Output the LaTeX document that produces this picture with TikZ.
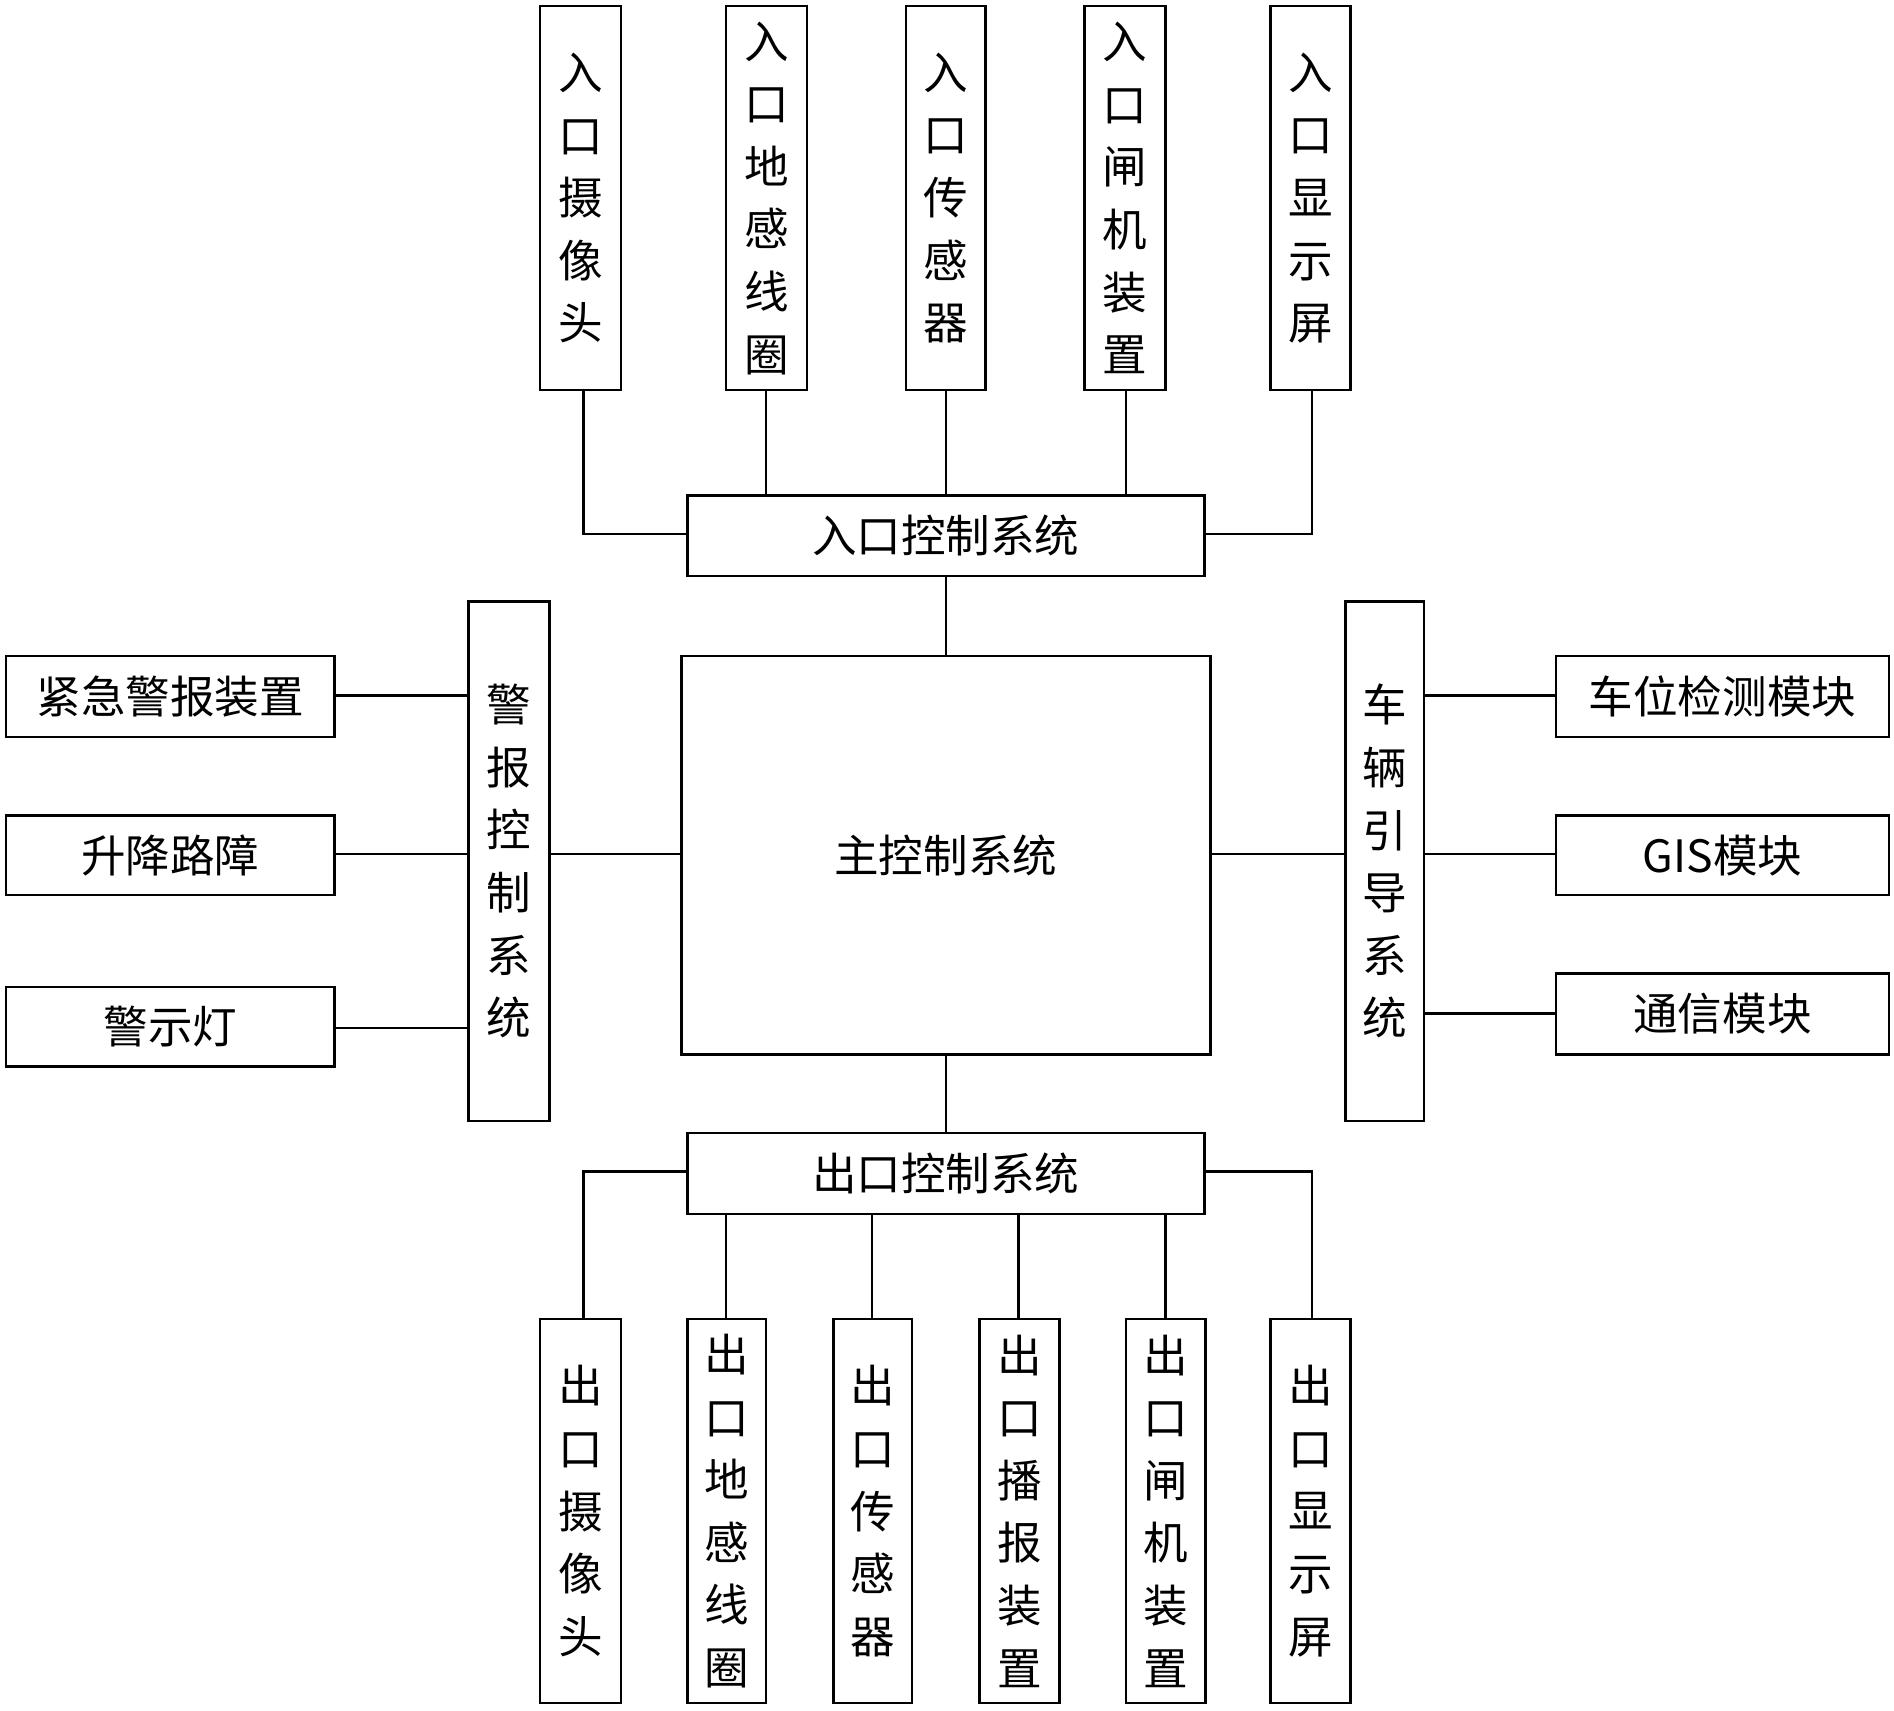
\documentclass[tikz,border=0pt]{standalone}
\usepackage{fontspec}
\newfontfamily\cjk{Noto Sans CJK SC}
\begin{document}
\begin{tikzpicture}[x=0.02cm,y=-0.02cm,
  bx/.style={draw,line width=1.2pt,inner sep=0pt},
  tx/.style={font=\cjk\fontsize{21}{29.5}\selectfont,align=center,inner sep=0pt},
  ln/.style={line width=1.2pt}]
\useasboundingbox (0,0) rectangle (1568,1416);
% generic box: name, x1,y1,x2,y2,text
\def\B#1#2#3#4#5#6{\draw[bx] (#2,#3) rectangle (#4,#5);
  \node[tx] (#1) at ({(#2+#4)/2},{(#3+#5)/2}) {#6};
  \coordinate (#1n) at ({(#2+#4)/2},#3);}
\B{t1}{447}{5}{514}{323}{入\\口\\摄\\像\\头}
\B{t2}{601}{5}{668}{323}{入\\口\\地\\感\\线\\圈}
\B{t3}{750}{5}{816}{323}{入\\口\\传\\感\\器}
\B{t4}{898}{5}{965}{323}{入\\口\\闸\\机\\装\\置}
\B{t5}{1052}{5}{1118}{323}{入\\口\\显\\示\\屏}
\B{ent}{569}{410}{997}{477}{入口控制系统}
\B{main}{564}{543}{1002}{873}{主控制系统}
\B{alarm}{388}{498}{455}{928}{警\\报\\控\\制\\系\\统}
\B{l1}{5}{543}{277}{610}{紧急警报装置}
\B{l2}{5}{675}{277}{741}{升降路障}
\B{l3}{5}{817}{277}{883}{警示灯}
\B{guide}{1114}{498}{1179}{928}{车\\辆\\引\\导\\系\\统}
\B{r1}{1288}{543}{1564}{610}{车位检测模块}
\B{r2}{1288}{675}{1564}{741}{GIS模块}
\B{r3}{1288}{806}{1564}{873}{通信模块}
\B{ext}{569}{938}{997}{1005}{出口控制系统}
\B{b1}{447}{1092}{514}{1410}{出\\口\\摄\\像\\头}
\B{b2}{569}{1092}{634}{1410}{出\\口\\地\\感\\线\\圈}
\B{b3}{690}{1092}{755}{1410}{出\\口\\传\\感\\器}
\B{b4}{811}{1092}{877}{1410}{出\\口\\播\\报\\装\\置}
\B{b5}{932}{1092}{998}{1410}{出\\口\\闸\\机\\装\\置}
\B{b6}{1052}{1092}{1118}{1410}{出\\口\\显\\示\\屏}
% top connections
\draw[ln] (483,323) |- (569,442);
\draw[ln] (634,323) -- (634,410);
\draw[ln] (783,323) -- (783,410);
\draw[ln] (932,323) -- (932,410);
\draw[ln] (1086,323) |- (997,442);
\draw[ln] (783,477) -- (783,543);
% sides
\draw[ln] (455,707) -- (564,707);
\draw[ln] (277,576) -- (388,576);
\draw[ln] (277,707) -- (388,707);
\draw[ln] (277,851) -- (388,851);
\draw[ln] (1002,707) -- (1114,707);
\draw[ln] (1179,576) -- (1288,576);
\draw[ln] (1179,707) -- (1288,707);
\draw[ln] (1179,839) -- (1288,839);
% bottom
\draw[ln] (783,873) -- (783,938);
\draw[ln] (483,1092) |- (569,970);
\draw[ln] (601,1005) -- (601,1092);
\draw[ln] (722,1005) -- (722,1092);
\draw[ln] (843,1005) -- (843,1092);
\draw[ln] (965,1005) -- (965,1092);
\draw[ln] (1086,1092) |- (997,970);
\end{tikzpicture}
\end{document}
